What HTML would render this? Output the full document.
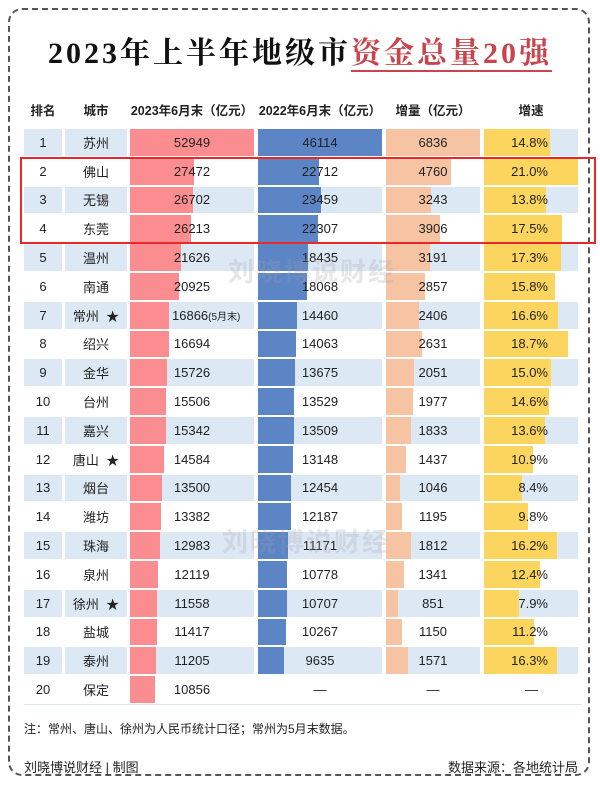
<!DOCTYPE html>
<html><head><meta charset="utf-8">
<style>
body{margin:0;background:#fff;width:600px;height:791px;overflow:hidden;font-family:"Liberation Sans","Noto Sans CJK SC",sans-serif;}
#frame{position:absolute;left:8px;top:8px;width:582px;height:768px;border:2px dashed #555;border-radius:14px;box-sizing:border-box;}
#title{position:absolute;left:0;width:600px;top:28px;text-align:center;font-family:"Liberation Serif","Noto Serif CJK SC",serif;font-weight:bold;font-size:30px;letter-spacing:3px;color:#111;}
#title .red{color:#c9444c;border-bottom:2px solid #c9444c;}
.h{position:absolute;top:100px;font-size:12.5px;font-weight:bold;color:#222;text-align:center;}
.c{position:absolute;font-size:13px;color:#222;display:flex;align-items:center;justify-content:center;}
.bar{position:absolute;}
.wm{position:absolute;font-size:26px;color:rgba(160,160,170,0.25);font-weight:bold;letter-spacing:2px;}
</style></head><body>
<div id="frame"></div>
<div id="title">2023年上半年地级市<span class="red">资金总量20强</span></div>
<div class="h" style="left:24px;width:38px">排名</div>
<div class="h" style="left:65px;width:62px">城市</div>
<div class="h" style="left:126px;width:132px">2023年6月末（亿元）</div>
<div class="h" style="left:254px;width:132px">2022年6月末（亿元）</div>
<div class="h" style="left:386px;width:94px">增量（亿元）</div>
<div class="h" style="left:484px;width:94px">增速</div>
<div id="table"></div>
<div class="wm" style="left:228px;top:252px">刘晓博说财经</div>
<div class="wm" style="left:222px;top:522px">刘晓博说财经</div>
<div style="position:absolute;left:24px;top:704px;width:558px;height:1px;background:#dde6ee"></div>
<div style="position:absolute;left:24px;top:720px;font-size:12px;color:#222">注：常州、唐山、徐州为人民币统计口径；常州为5月末数据。</div>
<div style="position:absolute;left:24px;top:757px;font-size:13px;color:#222">刘晓博说财经 | 制图</div>
<div style="position:absolute;right:22px;top:757px;font-size:13px;color:#222">数据来源：各地统计局</div>
<div style="position:absolute;left:20px;top:157px;width:576px;height:87px;border:2px solid #e8272a;box-sizing:border-box"></div>
<script>
const cities=["苏州","佛山","无锡","东莞","温州","南通","常州","绍兴","金华","台州","嘉兴","唐山","烟台","潍坊","珠海","泉州","徐州","盐城","泰州","保定"];
const stars=[0,0,0,0,0,0,1,0,0,0,0,1,0,0,0,0,1,0,0,0];
const v2023=[52949,27472,26702,26213,21626,20925,16866,16694,15726,15506,15342,14584,13500,13382,12983,12119,11558,11417,11205,10856];
const v2022=[46114,22712,23459,22307,18435,18068,14460,14063,13675,13529,13509,13148,12454,12187,11171,10778,10707,10267,9635,null];
const incr=[6836,4760,3243,3906,3191,2857,2406,2631,2051,1977,1833,1437,1046,1195,1812,1341,851,1150,1571,null];
const growth=[14.8,21.0,13.8,17.5,17.3,15.8,16.6,18.7,15.0,14.6,13.6,10.9,8.4,9.8,16.2,12.4,7.9,11.2,16.3,null];
const T=document.getElementById('table');
const top0=129,rh=28.8;
const cols=[{x:130,w:124,max:52949,col:'#fb8d90',data:v2023},{x:258,w:124,max:46114,col:'#5b85c5',data:v2022},{x:386,w:94,max:6836,col:'#f7c4a3',data:incr},{x:484,w:94,max:21.0,col:'#fcd55e',data:growth}];
function div(cls,l,t,w,h,bg){const d=document.createElement('div');d.className=cls;d.style.left=l+'px';d.style.top=t+'px';d.style.width=w+'px';d.style.height=h+'px';if(bg)d.style.background=bg;T.appendChild(d);return d;}
cities.forEach((c,i)=>{
 const y=top0+i*rh, h=rh-2, bg=i%2===0?'#dce8f4':null;
 let d=div('c',24,y,38,h,bg);d.textContent=i+1;
 
 
 d=div('c',65,y,62,h,bg);d.textContent=c+(stars[i]?'  ★':'');d.style.whiteSpace='pre';
 
 
 cols.forEach((k,j)=>{
  if(bg){const b=div('bar',k.x,y,k.w,h,bg);}
  const v=k.data[i];
  if(v!=null){const b=div('bar',k.x,y,k.w*v/k.max,h,k.col);
   
   }
  const t=div('c',k.x,y,k.w,h,null);
  t.textContent=v==null?'—':(j===3?v.toFixed(1)+'%':String(v));
  if(j===0&&i===6){t.innerHTML='16866 <span style="font-size:10px">(5月末)</span>';t.style.justifyContent='flex-start';t.style.paddingLeft='42px';t.style.boxSizing='border-box';}
  if(j===3){t.style.justifyContent='flex-end';t.style.paddingRight='30px';t.style.boxSizing='border-box';if(v==null){t.style.paddingRight='40px';}}
  
  
 });
});
</script>
</body></html>
